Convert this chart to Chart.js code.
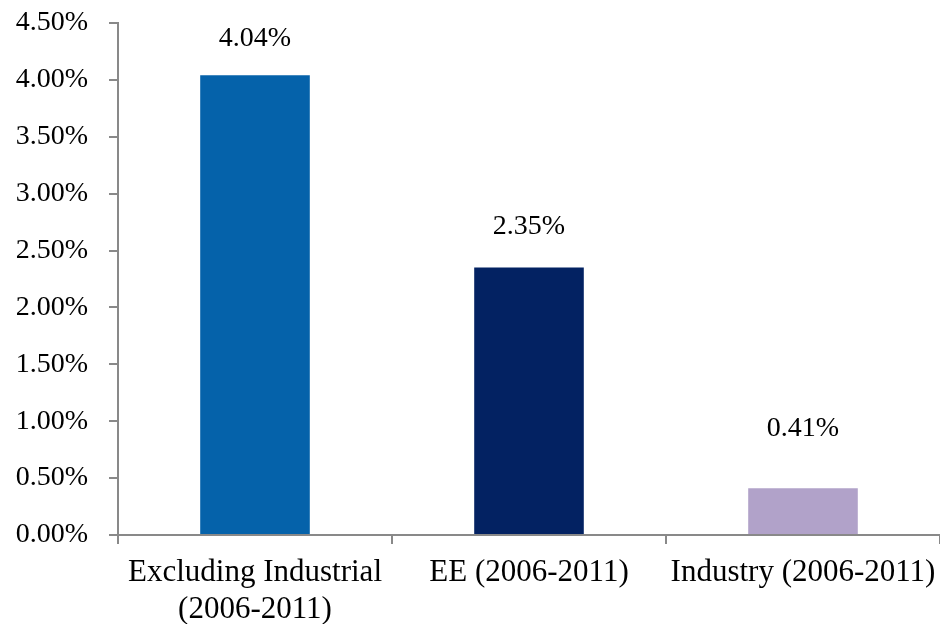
<!DOCTYPE html>
<html>
<head>
<meta charset="utf-8">
<script src="https://cdn.jsdelivr.net/npm/chart.js@4/dist/chart.umd.min.js"></script>
<style>
  html, body { margin: 0; padding: 0; background: #fff; }
  #wrap { width: 940px; height: 624px; }
</style>
</head>
<body>
<div id="wrap"><canvas id="c" width="940" height="624"></canvas></div>
<script>
const categories = [["Excluding Industrial", "(2006-2011)"], "EE (2006-2011)", "Industry (2006-2011)"];
const values = [4.04, 2.35, 0.41];
const valueLabels = ["4.04%", "2.35%", "0.41%"];
const barColors = ["#0562AA", "#032262", "#B1A2C9"];
const labelOffsets = [37, 41, 60];

const AXIS = "#898989";
const FONT = "'Liberation Serif', 'Times New Roman', serif";

const dataLabelPlugin = {
  id: 'dataLabels',
  afterDatasetsDraw(chart) {
    const ctx = chart.ctx;
    const meta = chart.getDatasetMeta(0);
    ctx.save();
    ctx.font = "28px " + FONT;
    ctx.fillStyle = "#000";
    ctx.textAlign = "center";
    ctx.textBaseline = "middle";
    meta.data.forEach((bar, i) => {
      ctx.fillText(valueLabels[i], bar.x, bar.y - labelOffsets[i]);
    });
    ctx.restore();
  }
};

new Chart(document.getElementById('c'), {
  type: 'bar',
  data: {
    labels: categories,
    datasets: [{
      data: values,
      backgroundColor: barColors,
      borderWidth: 0,
      categoryPercentage: 1.0,
      barPercentage: 0.4
    }]
  },
  options: {
    responsive: false,
    animation: false,
    devicePixelRatio: 1,
    layout: { padding: { top: 23, right: 0, bottom: 0, left: 0 } },
    plugins: { legend: { display: false }, tooltip: { enabled: false } },
    scales: {
      x: {
        offset: true,
        grid: { offset: true, drawOnChartArea: false, drawTicks: true, tickLength: 9, color: AXIS, lineWidth: 2 },
        border: { display: true, color: AXIS, width: 2 },
        ticks: { color: "#000", padding: 10, maxRotation: 0, autoSkip: false,
                 font: { family: FONT, size: 31, lineHeight: 1.2 } },
        afterFit(scale) { scale.height = 89; scale.paddingLeft = 0; scale.paddingRight = 0; }
      },
      y: {
        min: 0, max: 4.5,
        grid: { drawOnChartArea: false, drawTicks: true, tickLength: 9, color: AXIS, lineWidth: 2 },
        border: { display: true, color: AXIS, width: 2 },
        ticks: { stepSize: 0.5, color: "#000", padding: 21,
                 font: { family: FONT, size: 28 },
                 callback: v => v.toFixed(2) + "%" },
        afterFit(scale) { scale.width = 118; scale.paddingTop = 0; scale.paddingBottom = 0; }
      }
    }
  },
  plugins: [dataLabelPlugin]
});
</script>
</body>
</html>
